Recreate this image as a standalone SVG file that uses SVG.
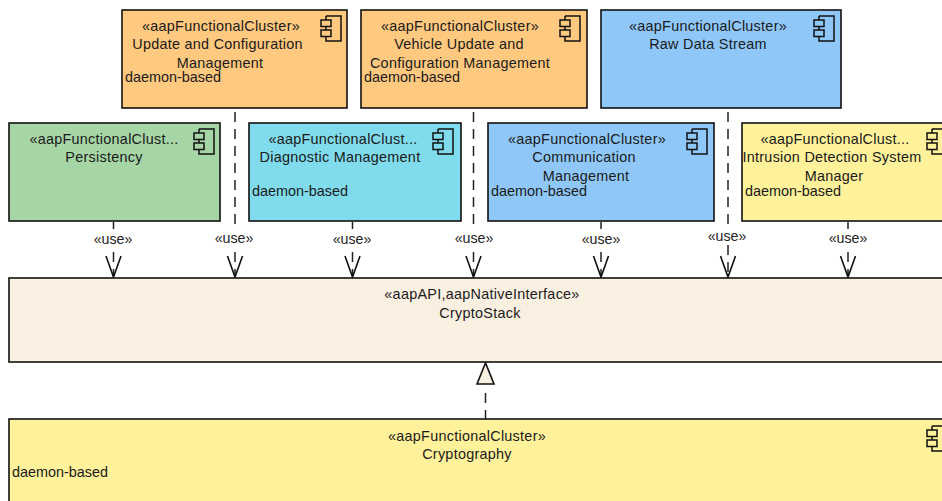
<svg xmlns="http://www.w3.org/2000/svg" width="942" height="501" viewBox="0 0 942 501">
<style>
text{font-family:"Liberation Sans",Arial,sans-serif;font-size:14.4px;fill:#1a1a1a}
.c{text-anchor:middle;letter-spacing:.27px}
.box{stroke:#111;stroke-width:1.6}
.ico{fill:none;stroke:#111;stroke-width:1.5}
.con{fill:none;stroke:#222;stroke-width:1.5;stroke-dasharray:10 7}
.arr{fill:none;stroke:#111;stroke-width:1.6}
.u{font-size:14.2px;text-anchor:middle;fill:#222}
</style>
<defs>
<g id="icon"><path class="ico" d="M5 0H20V25H5V20.500M5 14V10.500M5 4V0"/><rect class="ico" x="0" y="4" width="10" height="6.500"/><rect class="ico" x="0" y="14" width="10" height="6.500"/></g>
<path id="open" class="arr" d="M-7.500 -21L0 0L7.500 -21M0 0V-3"/>
</defs>
<rect width="942" height="501" fill="#fff"/>
<g id="connectors">
<path class="con" d="M113.500 222V229M113.500 252V276"/>
<path class="con" d="M235 112V230M235 252V276"/>
<path class="con" d="M352.500 222V229M352.500 252V276"/>
<path class="con" d="M473.500 112V230M473.500 252V276"/>
<path class="con" d="M601 222V229M601 252V276"/>
<path class="con" d="M728 112V228M728 245V276"/>
<path class="con" d="M848 222V229M848 252V276"/>
<path class="con" d="M485.500 420V388"/>
<use href="#open" x="113.500" y="277"/><use href="#open" x="235" y="277"/><use href="#open" x="352.500" y="277"/><use href="#open" x="473.500" y="277"/><use href="#open" x="601" y="277"/><use href="#open" x="728" y="277"/><use href="#open" x="848" y="277"/>
<text class="u" x="113" y="244">«use»</text><text class="u" x="234" y="243">«use»</text><text class="u" x="352" y="244">«use»</text><text class="u" x="474" y="243">«use»</text><text class="u" x="601" y="244">«use»</text><text class="u" x="727" y="241">«use»</text><text class="u" x="848" y="243">«use»</text>
<polygon points="485.500,363 477,384 494,384" fill="#faf0e2" stroke="#111" stroke-width="1.600"/>
</g>
<g id="node-update"><rect class="box" x="122" y="10" width="225" height="98" fill="#ffc97f"/><use href="#icon" x="321" y="16"/><text class="c" x="221" y="31">«aapFunctionalCluster»</text><text class="c" x="217.500" y="49">Update and Configuration</text><text class="c" x="220" y="68">Management</text><text x="125" y="82">daemon-based</text></g>
<g id="node-vehicle"><rect class="box" x="361" y="10" width="226" height="98" fill="#ffc97f"/><use href="#icon" x="560" y="16"/><text class="c" x="460" y="31">«aapFunctionalCluster»</text><text class="c" x="459" y="49">Vehicle Update and</text><text class="c" x="460" y="68">Configuration Management</text><text x="364" y="82">daemon-based</text></g>
<g id="node-raw"><rect class="box" x="601" y="10" width="240" height="98" fill="#8fc8f8"/><use href="#icon" x="814" y="16"/><text class="c" x="708" y="31">«aapFunctionalCluster»</text><text class="c" x="708" y="49">Raw Data Stream</text></g>
<g id="node-persistency"><rect class="box" x="9" y="123" width="211" height="98" fill="#a6d6a6"/><use href="#icon" x="194" y="129"/><text class="c" x="104" y="144">«aapFunctionalClust...</text><text class="c" x="104" y="162">Persistency</text></g>
<g id="node-diagnostic"><rect class="box" x="249" y="123" width="212" height="98" fill="#80dcec"/><use href="#icon" x="433" y="129"/><text class="c" x="343" y="144">«aapFunctionalClust...</text><text class="c" x="340" y="162">Diagnostic Management</text><text x="252" y="196">daemon-based</text></g>
<g id="node-communication"><rect class="box" x="488" y="123" width="226" height="98" fill="#8fc8f8"/><use href="#icon" x="687" y="129"/><text class="c" x="587" y="144">«aapFunctionalCluster»</text><text class="c" x="584" y="162">Communication</text><text class="c" x="586" y="181">Management</text><text x="491" y="196">daemon-based</text></g>
<g id="node-intrusion"><rect class="box" x="742" y="123" width="210" height="98" fill="#fff29b"/><use href="#icon" x="927" y="129"/><text class="c" x="835" y="144">«aapFunctionalClust...</text><text class="c" x="832" y="162">Intrusion Detection System</text><text class="c" x="834" y="181">Manager</text><text x="745" y="196">daemon-based</text></g>
<g id="node-cryptostack"><rect class="box" x="9" y="278" width="943" height="84" fill="#faf0e2"/><text class="c" x="482" y="299">«aapAPI,aapNativeInterface»</text><text class="c" x="480" y="318">CryptoStack</text></g>
<g id="node-cryptography"><rect class="box" x="9" y="419" width="943" height="92" fill="#fff29b"/><use href="#icon" x="927" y="426"/><text class="c" x="467" y="441">«aapFunctionalCluster»</text><text class="c" x="467" y="459">Cryptography</text><text x="12" y="477">daemon-based</text></g>
</svg>
